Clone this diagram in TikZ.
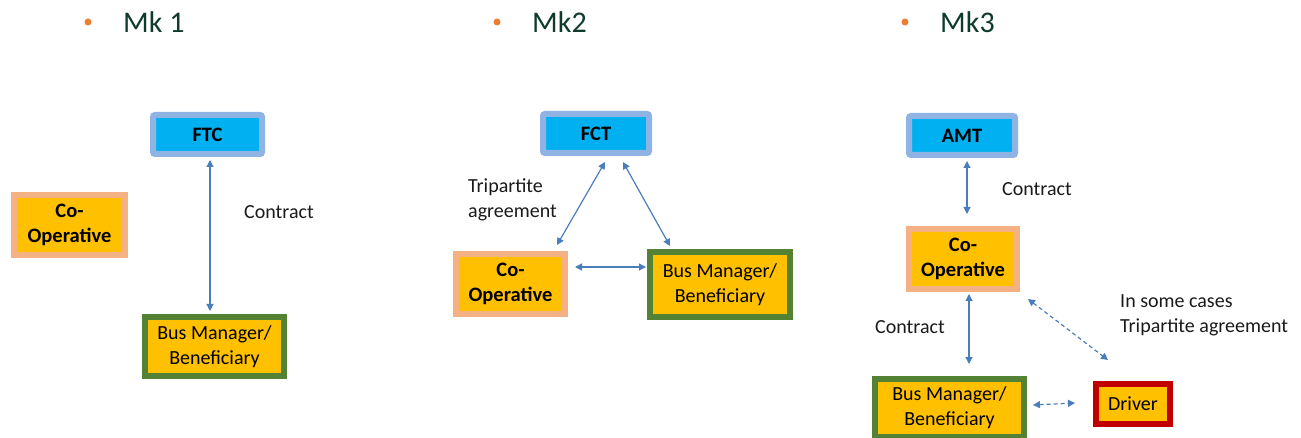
\documentclass[tikz,border=0pt]{standalone}
\usepackage{fontspec}
\setmainfont{Carlito}
\usetikzlibrary{arrows.meta}
\definecolor{bluefill}{HTML}{00B0F0}
\definecolor{blueedge}{HTML}{8FB4E3}
\definecolor{yfill}{HTML}{FFC000}
\definecolor{orangeedge}{HTML}{F4B183}
\definecolor{greenedge}{HTML}{548235}
\definecolor{rededge}{HTML}{C00000}
\definecolor{conncol}{HTML}{4A7EBB}
\definecolor{titlecol}{HTML}{0F3B2A}
\definecolor{bulletcol}{HTML}{ED7D31}
\definecolor{labelcol}{HTML}{1A1A1A}
\tikzset{
  basebox/.style={line width=6pt, inner sep=0pt, align=center,
    font=\fontsize{20}{25}\selectfont, text=black},
  bluebox/.style={basebox, draw=blueedge, fill=bluefill, rounded corners=2pt, font=\fontsize{20.5}{25}\selectfont\bfseries},
  coopbox/.style={basebox, draw=orangeedge, fill=yfill, font=\fontsize{20.5}{25}\selectfont\bfseries},
  busbox/.style={basebox, draw=greenedge, fill=yfill},
  driverbox/.style={basebox, draw=rededge, fill=yfill},
  conn/.style={draw=conncol, line width=1.2pt, {Triangle[length=7pt,width=7pt]}-{Triangle[length=7pt,width=7pt]}},
  dconn/.style={conn, dash pattern=on 4pt off 3pt},
  lbl/.style={anchor=west, inner sep=0pt, align=left, text=labelcol, font=\fontsize{20}{25}\selectfont},
  ttl/.style={anchor=west, inner sep=0pt, text=titlecol, font=\fontsize{30}{36}\selectfont},
  bul/.style={circle, fill=bulletcol, inner sep=0pt, minimum size=7pt}
}
\begin{document}
\begin{tikzpicture}[x=1pt,y=-1pt]
\useasboundingbox (0,0) rectangle (1301,438);
% titles
\node[bul] (b1) at (88,22) {};
\node[ttl] (t1) at (123,22) {Mk 1};
\node[bul] (b2) at (497,22) {};
\node[ttl] (t2) at (532,22) {Mk2};
\node[bul] (b3) at (905,22) {};
\node[ttl] (t3) at (940,22) {Mk3};
% Mk1
\node[bluebox, minimum width=109pt, minimum height=39pt] (ftc1) at (207.5,134.5) {FTC};
\node[coopbox, minimum width=111pt, minimum height=60pt] (coop1) at (69.5,225) {Co-\\Operative};
\node[busbox, minimum width=139pt, minimum height=59pt] (bus1) at (214.5,346.5) {Bus Manager/\\Beneficiary};
\draw[conn] ([xshift=2.5pt,yshift=-3pt]ftc1.south) -- ([xshift=-4.5pt,yshift=3pt]bus1.north);
\node[lbl] (c1) at (244,212) {Contract};
% Mk2
\node[bluebox, minimum width=106pt, minimum height=39pt] (fct) at (596,133.5) {FCT};
\node[coopbox, minimum width=109pt, minimum height=60pt] (coop2) at (510.5,284) {Co-\\Operative};
\node[busbox, minimum width=140pt, minimum height=65pt] (bus2) at (720,284.5) {Bus Manager/\\Beneficiary};
\draw[conn] ([xshift=9pt,yshift=-6pt]fct.south) -- ([xshift=46.5pt,yshift=6pt]coop2.north);
\draw[conn] ([xshift=27pt,yshift=-6pt]fct.south) -- ([xshift=-50pt,yshift=3pt]bus2.north);
\draw[conn] ([xshift=7pt,yshift=17pt]coop2.east) -- ([xshift=-1pt,yshift=17.5pt]bus2.west);
\node[lbl] (tri2) at (468,199.5) {Tripartite\\agreement};
% Mk3
\node[bluebox, minimum width=106pt, minimum height=39pt] (amt) at (962,135.5) {AMT};
\node[coopbox, minimum width=108pt, minimum height=60pt] (coop3) at (963,259) {Co-\\Operative};
\node[busbox, minimum width=149pt, minimum height=58pt] (bus3) at (949.5,408) {Bus Manager/\\Beneficiary};
\node[driverbox, minimum width=74pt, minimum height=40pt] (drv) at (1133,404) {Driver};
\draw[conn] ([xshift=5pt,yshift=-3pt]amt.south) -- ([xshift=4pt,yshift=12pt]coop3.north);
\draw[conn] ([xshift=6pt,yshift=-2pt]coop3.south) -- ([xshift=19.5pt,yshift=12pt]bus3.north);
\draw[dconn] ([xshift=6pt,yshift=3pt]bus3.east) -- ([xshift=-18pt,yshift=1pt]drv.west);
\draw[dconn] ([xshift=8pt,yshift=-7pt]coop3.south east) -- ([xshift=-25pt,yshift=21pt]drv.north);
\node[lbl] (c3a) at (1002,189) {Contract};
\node[lbl] (c3b) at (875,327) {Contract};
\node[lbl] (tri3) at (1120,315.5) {In some cases\\Tripartite agreement};
\end{tikzpicture}
\end{document}
